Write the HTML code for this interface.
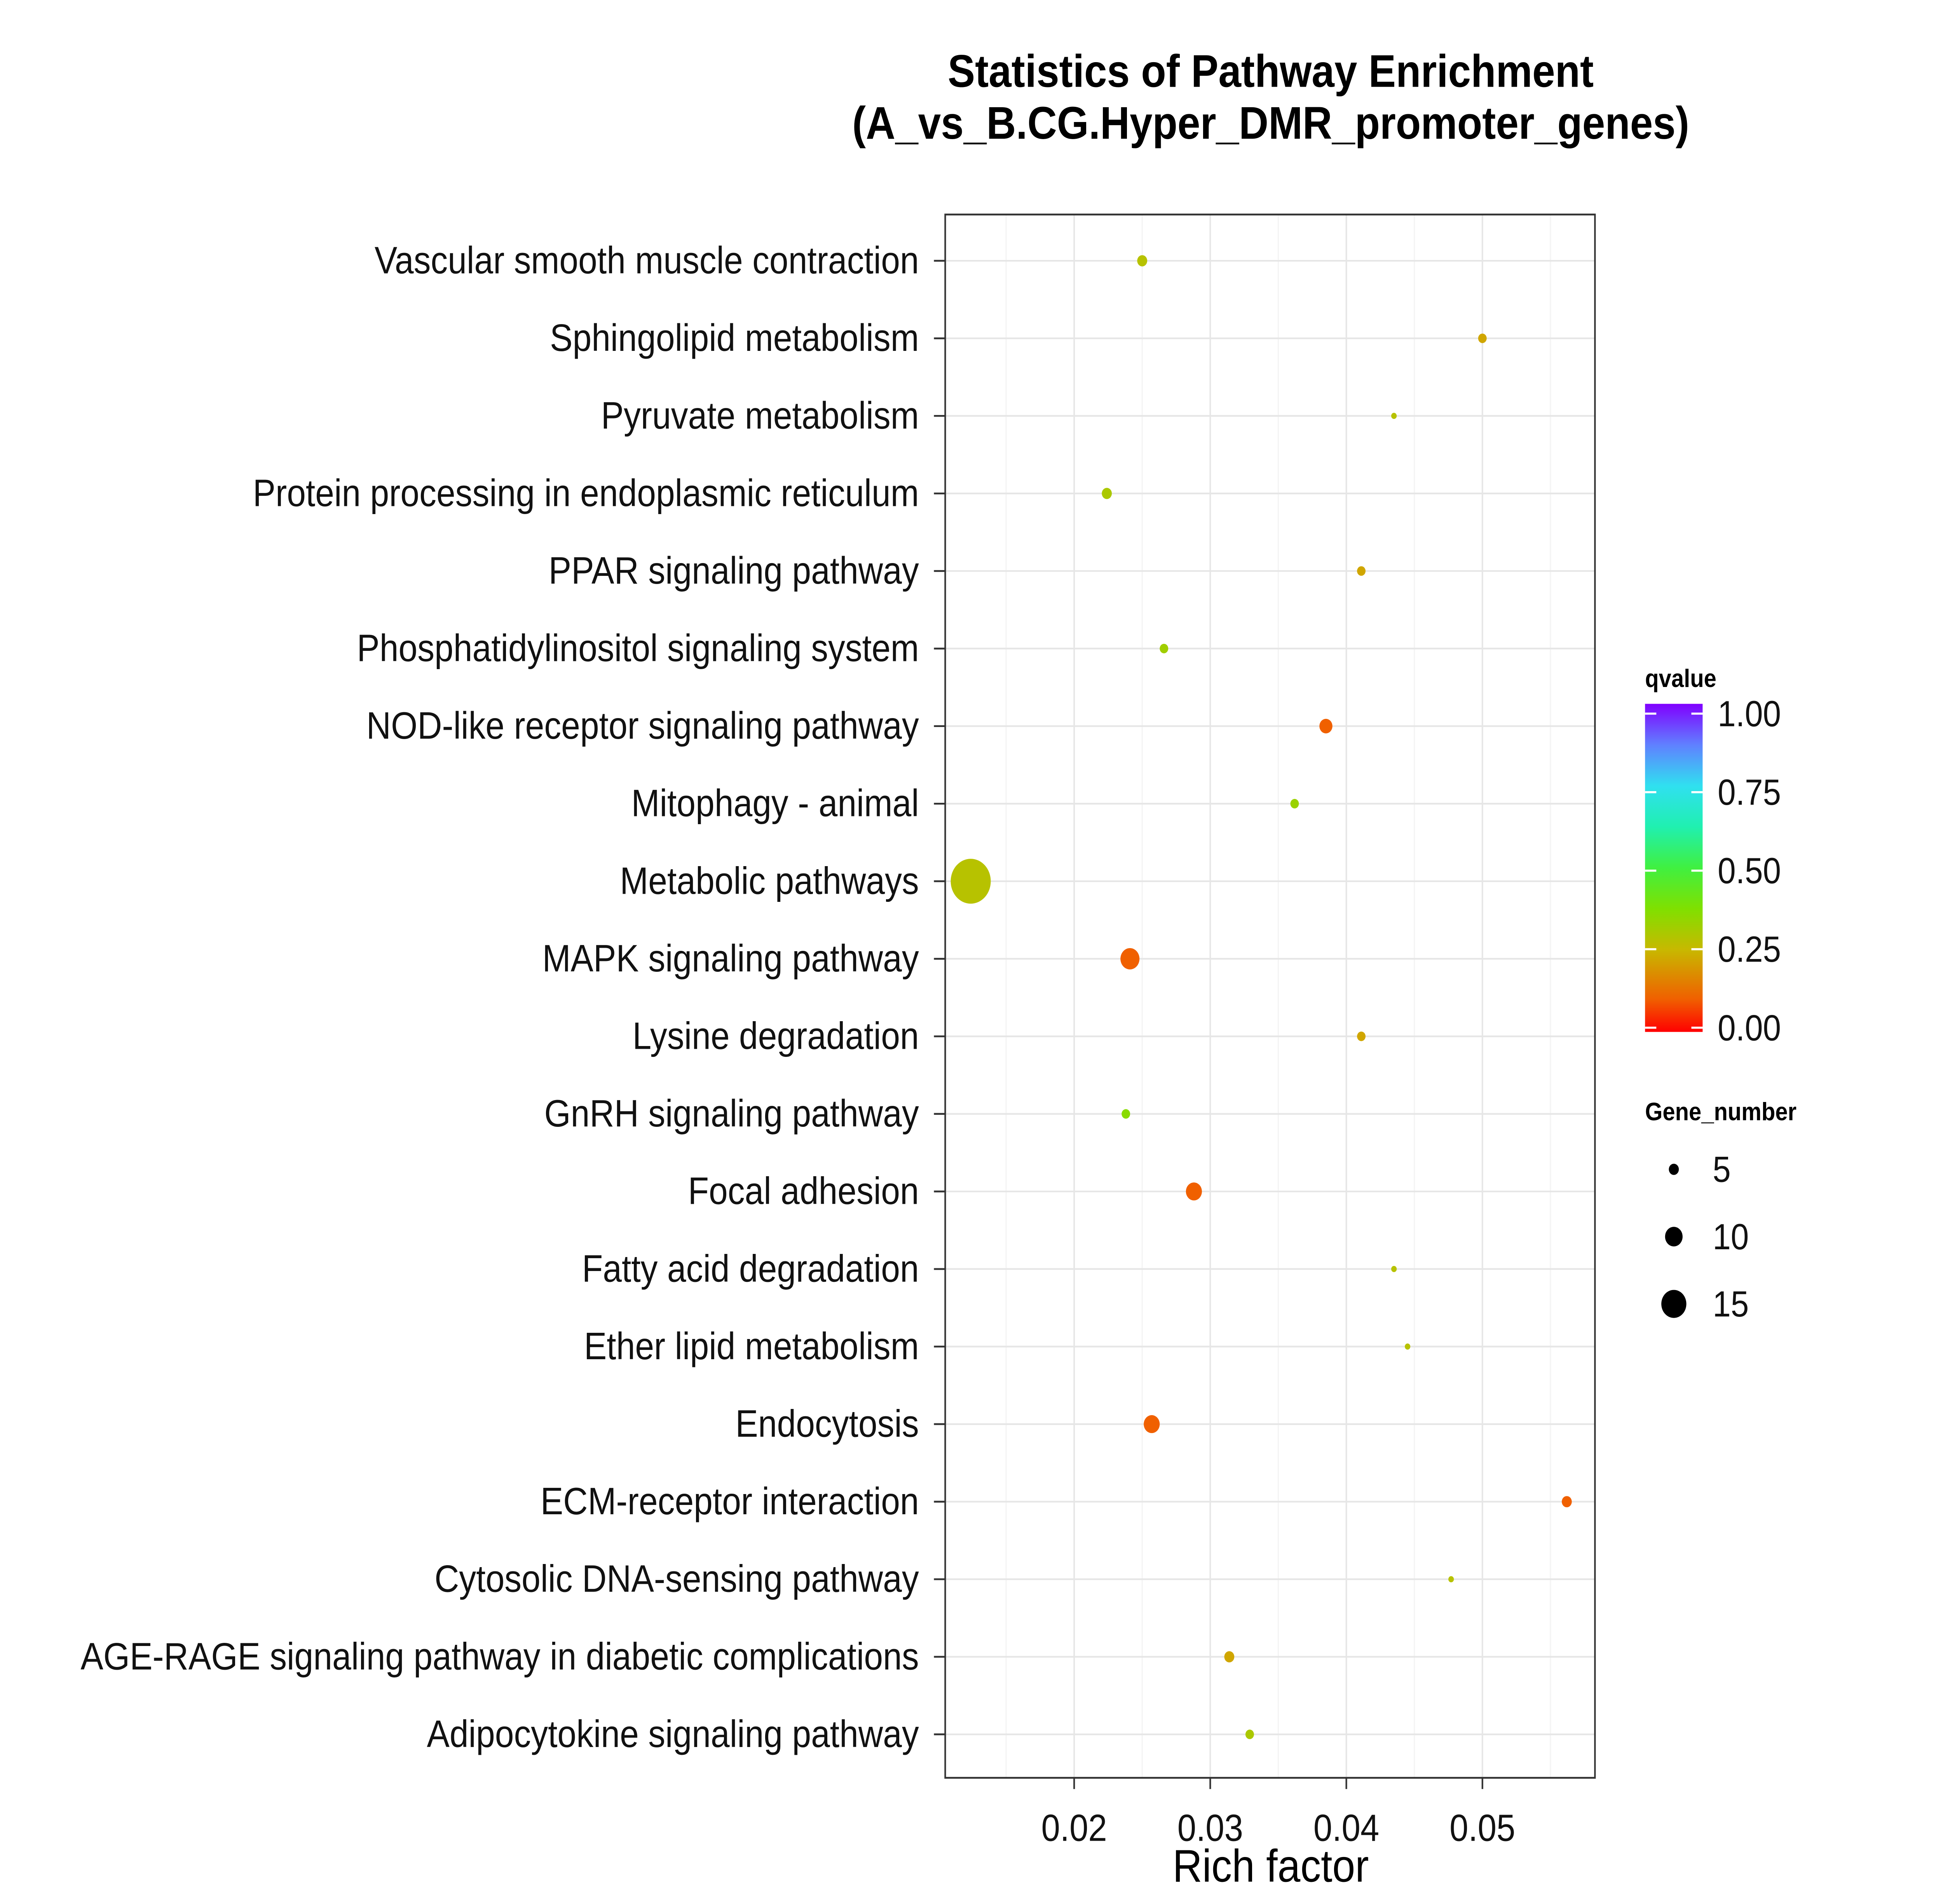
<!DOCTYPE html>
<html><head><meta charset="utf-8"><style>
html,body{margin:0;padding:0;background:#fff;width:100%;height:100%;overflow:hidden;}
svg{display:block;width:100vw;height:100vh;}
text{font-family:"Liberation Sans",Arial,sans-serif;}
</style></head><body>
<svg id="chart" viewBox="0 0 1552 1358" preserveAspectRatio="none" xmlns="http://www.w3.org/2000/svg">
<defs>
<linearGradient id="qgrad" x1="0" y1="1" x2="0" y2="0">
<stop offset="0" stop-color="#ff0000"/>
<stop offset="0.1" stop-color="#f06000"/>
<stop offset="0.25" stop-color="#c8b800"/>
<stop offset="0.375" stop-color="#80e000"/>
<stop offset="0.5" stop-color="#40f040"/>
<stop offset="0.625" stop-color="#20f0b0"/>
<stop offset="0.75" stop-color="#30e0f0"/>
<stop offset="0.875" stop-color="#6080ff"/>
<stop offset="1" stop-color="#8000ff"/>
</linearGradient>
</defs>
<text x="1015" y="62" text-anchor="middle" font-size="32.7" font-weight="bold">Statistics of Pathway Enrichment</text>
<text x="1015" y="99" text-anchor="middle" font-size="32.7" font-weight="bold">(A_vs_B.CG.Hyper_DMR_promoter_genes)</text>
<g id="grid"></g>
<g id="marks"></g>
<rect x="755" y="153" width="519" height="1115" fill="none" stroke="#333" stroke-width="1.3"/>
<g id="axes"></g>
<text x="1015" y="1342" text-anchor="middle" font-size="32.8">Rich factor</text>
<g>
<text x="1314" y="490" font-size="18" font-weight="bold">qvalue</text>
<rect x="1314" y="502" width="46" height="234" fill="url(#qgrad)"/>
<g id="cbticks"></g>
</g>
<g>
<text x="1314" y="799" font-size="18" font-weight="bold">Gene_number</text>
<g id="sizeleg"></g>
</g>
</svg>
<script>
const pathways=["Vascular smooth muscle contraction","Sphingolipid metabolism","Pyruvate metabolism","Protein processing in endoplasmic reticulum","PPAR signaling pathway","Phosphatidylinositol signaling system","NOD-like receptor signaling pathway","Mitophagy - animal","Metabolic pathways","MAPK signaling pathway","Lysine degradation","GnRH signaling pathway","Focal adhesion","Fatty acid degradation","Ether lipid metabolism","Endocytosis","ECM-receptor interaction","Cytosolic DNA-sensing pathway","AGE-RAGE signaling pathway in diabetic complications","Adipocytokine signaling pathway"];
const richFactor=[0.025,0.050,0.0435,0.0224,0.0411,0.0266,0.0385,0.0362,0.0124,0.0241,0.0411,0.0238,0.0288,0.0435,0.0445,0.0257,0.0562,0.0477,0.0314,0.0329];
const geneNumber=[5,4,2,5,4,4,7,4,25,11,4,4,9,2,2,9,5,2,5,4];
const qvalue=[0.28,0.22,0.28,0.30,0.22,0.32,0.10,0.33,0.28,0.10,0.22,0.36,0.10,0.28,0.28,0.10,0.10,0.28,0.22,0.30];
const xTicks=[0.02,0.03,0.04,0.05];
const xMinor=[0.015,0.025,0.035,0.045,0.055];
const cbTicks=[0,0.25,0.5,0.75,1];
const sizeBreaks=[5,10,15];

const NS="http://www.w3.org/2000/svg";
const X0=755,X1=1274,Y0=153,Y1=1268;
function xs(v){return 858+(v-0.02)*10870;}
function ys(i){return 186+i*(1237-186)/(pathways.length-1);}
function rs(n){return 0.6*n+1;}
const stops=[[0,[255,0,0]],[0.1,[240,96,0]],[0.25,[200,184,0]],[0.375,[128,224,0]],[0.5,[64,240,64]],[0.625,[32,240,176]],[0.75,[48,224,240]],[0.875,[96,128,255]],[1,[128,0,255]]];
function qcol(q){for(let i=1;i<stops.length;i++){if(q<=stops[i][0]){const a=stops[i-1],b=stops[i],t=(q-a[0])/(b[0]-a[0]);const c=a[1].map((v,k)=>Math.round(v+(b[1][k]-v)*t));return `rgb(${c})`;}}return "rgb(128,0,255)";}
function mk(tag,attrs,parent){const e=document.createElementNS(NS,tag);for(const k in attrs)e.setAttribute(k,attrs[k]);parent.appendChild(e);return e;}
const grid=document.getElementById('grid'),marks=document.getElementById('marks'),axes=document.getElementById('axes');
xMinor.forEach(v=>{const l=mk('line',{x1:xs(v),x2:xs(v),y1:Y0,y2:Y1,stroke:'#f4f4f4','stroke-width':1},grid);

});
xTicks.forEach(v=>{const l=mk('line',{x1:xs(v),x2:xs(v),y1:Y0,y2:Y1,stroke:'#e6e6e6','stroke-width':1.2},grid);


const t=mk('line',{x1:xs(v),x2:xs(v),y1:Y1,y2:Y1+8,stroke:'#333','stroke-width':1.3},axes);


const tx=mk('text',{x:xs(v),y:Y1+45,'text-anchor':'middle','font-size':27,fill:'#111'},axes);tx.textContent=v.toFixed(2);

});
pathways.forEach((p,i)=>{const y=ys(i);
const g=mk('line',{x1:X0,x2:X1,y1:y,y2:y,stroke:'#e6e6e6','stroke-width':1.2},grid);


const t=mk('line',{x1:X0-9,x2:X0,y1:y,y2:y,stroke:'#333','stroke-width':1.3},axes);


const tx=mk('text',{x:X0-21,y:y+9,'text-anchor':'end','font-size':27.2,fill:'#111'},axes);tx.textContent=p;


const c=mk('circle',{cx:xs(richFactor[i]),cy:y,r:rs(geneNumber[i]),fill:qcol(qvalue[i])},marks);

});
const cb=document.getElementById('cbticks');
cbTicks.forEach(v=>{const y=733-v*224;
const l1=mk('line',{x1:1314,x2:1323,y1:y,y2:y,stroke:'#fff','stroke-width':1.5},cb);


const l2=mk('line',{x1:1351,x2:1360,y1:y,y2:y,stroke:'#fff','stroke-width':1.5},cb);


const tx=mk('text',{x:1372,y:y+9,'font-size':26,fill:'#111'},cb);tx.textContent=v.toFixed(2);

});
const sl=document.getElementById('sizeleg');
sizeBreaks.forEach((n,i)=>{const y=834+i*48;
const c=mk('circle',{cx:1337,cy:y,r:rs(n),fill:'#000'},sl);


const tx=mk('text',{x:1368,y:y+9,'font-size':26,fill:'#111'},sl);tx.textContent=n;

});
</script>
</body></html>
